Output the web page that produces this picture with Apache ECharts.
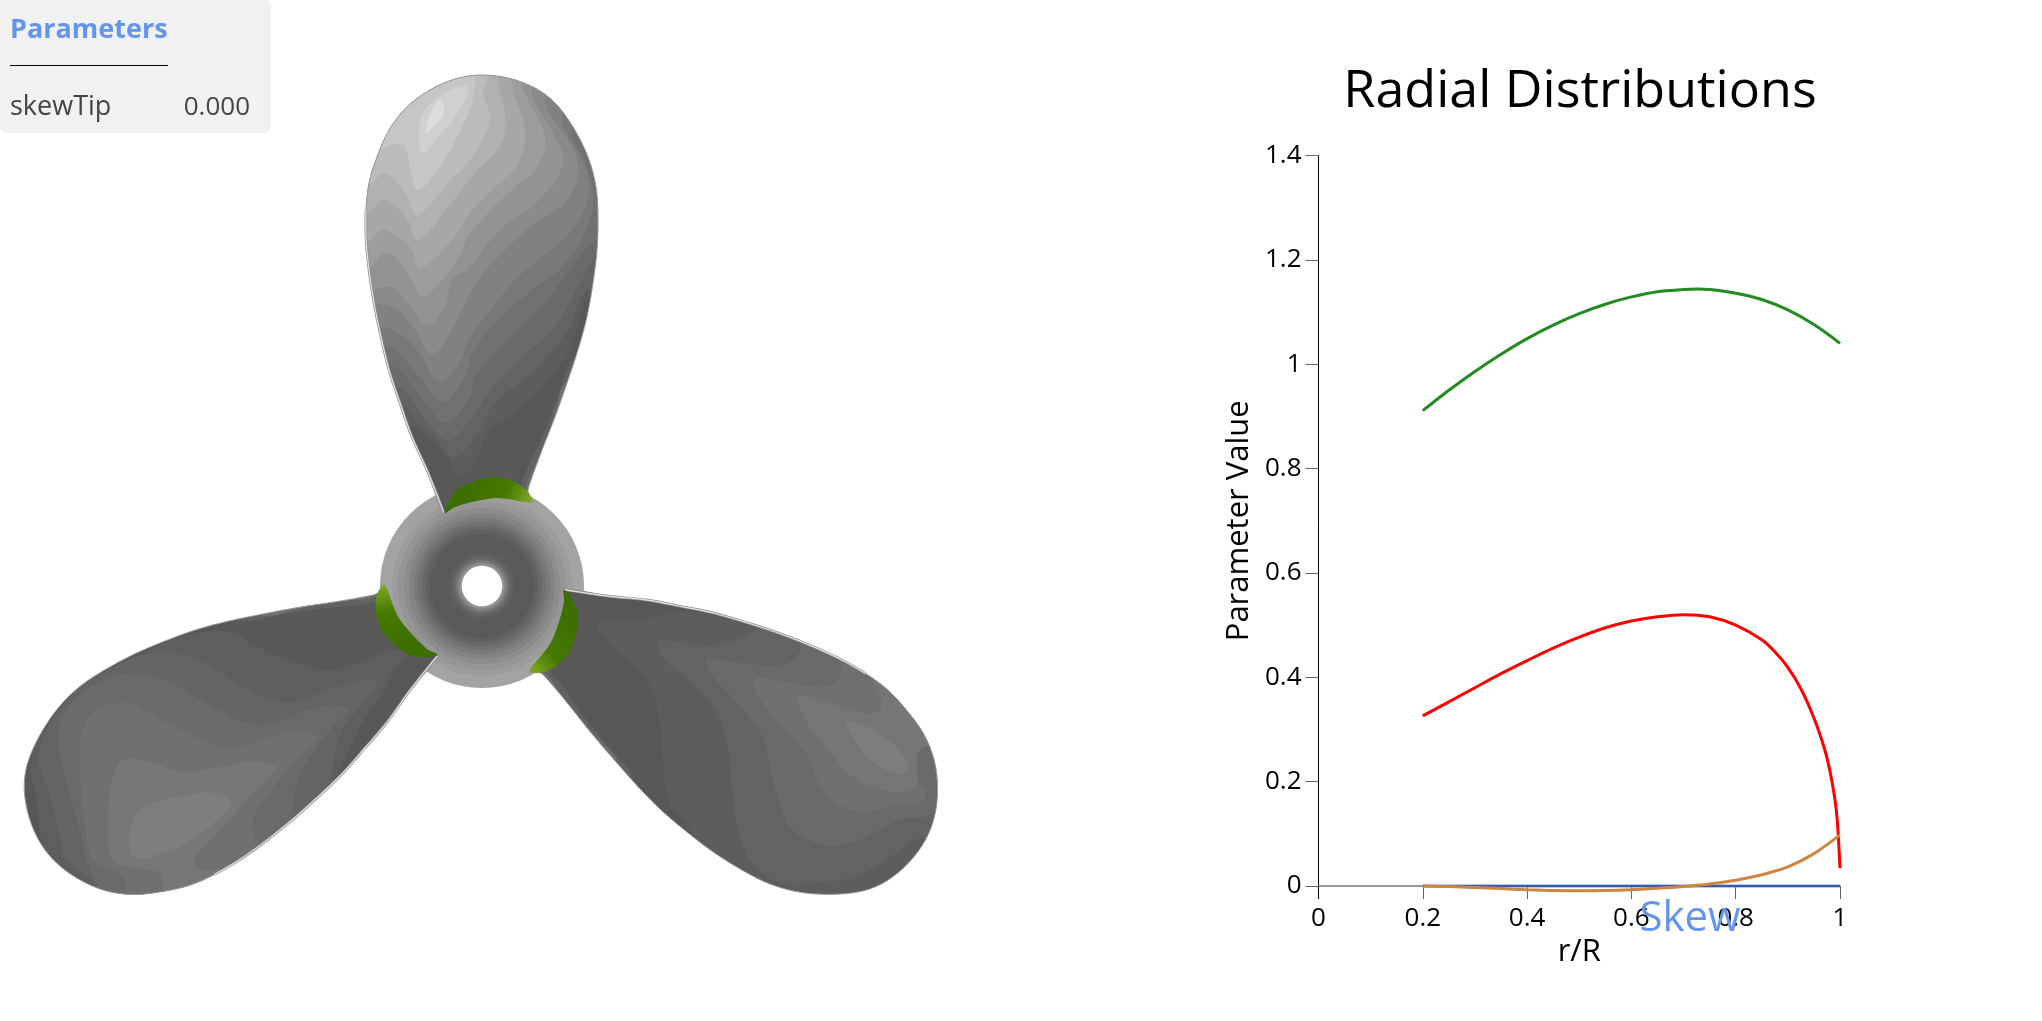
<!DOCTYPE html>
<html lang="en">
<head>
    <meta charset="UTF-8">
    <title>Radial Distributions</title>
    <script src="https://cdn.jsdelivr.net/npm/echarts@6/dist/echarts.min.js"></script>
    <style>
        html, body { margin: 0; padding: 0; background: #fff; }
        #main { width: 2042px; height: 1021px; }
    </style>
</head>
<body>
<div id="main"></div>
<script>
    // radial distributions
    var radius = [0.2, 0.25, 0.3, 0.35, 0.4, 0.45, 0.5, 0.55, 0.6, 0.65, 0.7, 0.75, 0.8, 0.85, 0.9, 0.95, 1];
    var rake = [0, -0.001, -0.003, -0.005, -0.007, -0.0085, -0.009, -0.0085, -0.007, -0.0045, -0.001, 0.004, 0.011, 0.0215, 0.0365, 0.062, 0.098];
    var skew = [0, 0, 0, 0, 0, 0, 0, 0, 0, 0, 0, 0, 0, 0, 0, 0, 0];
    var thickness = [0, 0, 0, 0, 0, 0, 0, 0, 0, 0, 0, 0, 0, 0, 0, 0, 0];
    // pitch has a station on its peak
    var pitchRadius = [0.2, 0.25, 0.3, 0.35, 0.4, 0.45, 0.5, 0.55, 0.6, 0.65, 0.7, 0.725, 0.75, 0.8, 0.85, 0.9, 0.95, 1];
    var pitch = [0.911, 0.950, 0.986, 1.019, 1.049, 1.075, 1.097, 1.115, 1.129, 1.139, 1.143, 1.144, 1.143, 1.136, 1.124, 1.104, 1.076, 1.040];
    // chord falls off fast at the tip so it has a few more stations
    var chordRadius = [0.2, 0.25, 0.3, 0.35, 0.4, 0.45, 0.5, 0.55, 0.6, 0.65, 0.7, 0.75, 0.8, 0.85, 0.875, 0.9, 0.925, 0.95, 0.97, 0.98, 0.99, 0.995, 1];
    var chord = [0.326, 0.353, 0.380, 0.407, 0.432, 0.456, 0.477, 0.495, 0.508, 0.516, 0.520, 0.516, 0.500, 0.472, 0.449, 0.419, 0.378, 0.322, 0.264, 0.224, 0.168, 0.123, 0.034];

    // propeller, read in picture units around the hub
    var hubCentre = [482, 586];
    var hubRadii = [102, 90, 84, 78, 73, 68, 64, 60, 56, 52, 34, 32, 29, 26.5, 24.5, 22.5, 20.3];
    var hubShades = ['#a3a3a3', '#9c9c9c', '#959595', '#8c8c8c', '#838383', '#7a7a7a', '#717171', '#686868', '#606060', '#5a5a5a', '#5c5c5c', '#606060', '#686868', '#747474', '#828282', '#949494', '#ffffff'];

    var bladeAngles = [0, 120, 240];
    var bladeOutline = [[444,513],[427,470],[412,437],[400,403],[389,370],[381,337],[374,303],[369,270],[366,237],[366,210],[369,183],[377,157],[389,130],[407,107],[430,90],[455,79],[480,75],[508,78],[535,88],[555,103],[573,127],[588,157],[596,187],[598,217],[597,250],[593,283],[587,317],[578,350],[567,383],[555,417],[542,450],[530,483],[528,492],[532,502],[498,498],[472,502],[455,507]];
    var leadingEdge = [[444,513],[427,470],[412,437],[400,403],[389,370],[381,337],[374,303],[369,270],[366,237],[366,210]];
    var cusp = [[444,513],[455,492],[472,482],[495,477],[515,482],[528,492],[532,502],[498,498],[472,502],[455,507]];
    var cuspShadeLine = [[470,480],[535,505]];

    var rootStripes = [
        [[575,357],[558,397],[542,437],[522,483],[522,510],[560,510],[620,357]],
        [[568,380],[552,423],[535,467],[527,483],[527,510],[570,510],[620,380]],
        [[552,437],[538,460],[530,487],[540,510],[575,510],[600,437]]
    ];
    var rootShades = ['#626262', '#707070', '#868686'];

    var topBands = [
        [[412,427],[425,437],[445,453],[460,477],[478,457],[488,433],[522,407],[555,373],[575,337],[588,300],[640,300],[640,60],[350,60],[350,427]],
        [[405,407],[415,420],[435,437],[454,458],[478,433],[495,403],[532,373],[568,330],[588,290],[640,290],[640,60],[350,60],[350,407]],
        [[398,387],[412,400],[428,423],[449,440],[475,413],[488,393],[522,357],[555,327],[582,280],[600,255],[640,255],[640,60],[350,60],[350,387]],
        [[395,367],[408,380],[425,403],[446,422],[470,397],[475,377],[505,343],[548,300],[562,280],[592,243],[640,200],[640,60],[350,60],[350,367]],
        [[392,347],[405,360],[422,380],[442,402],[465,377],[472,353],[495,323],[532,290],[562,267],[585,233],[593,203],[588,170],[572,123],[620,60],[350,60],[350,347]],
        [[382,327],[405,337],[422,357],[437,380],[455,370],[472,333],[488,313],[515,280],[542,257],[572,230],[588,197],[585,167],[562,117],[580,60],[350,60],[350,327]],
        [[375,303],[398,310],[415,330],[432,354],[452,330],[462,310],[478,280],[498,257],[535,223],[565,203],[578,173],[572,147],[545,100],[560,60],[350,60],[350,303]],
        [[372,290],[392,287],[408,303],[427,325],[445,307],[452,280],[467,270],[485,247],[508,223],[542,197],[563,163],[555,137],[532,92],[540,60],[350,60],[350,290]],
        [[367,270],[385,253],[398,260],[413,283],[423,297],[455,263],[468,237],[488,213],[515,187],[535,170],[545,147],[542,127],[522,85],[522,60],[350,60],[350,270]],
        [[366,243],[383,230],[398,237],[412,250],[420,268],[452,240],[472,210],[495,187],[518,163],[525,130],[512,87],[512,60],[350,60],[350,243]],
        [[368,212],[383,200],[397,207],[408,220],[418,240],[448,207],[475,173],[502,143],[505,113],[498,83],[498,60],[350,60],[350,212]],
        [[370,185],[383,173],[398,183],[408,197],[417,215],[448,183],[472,157],[490,120],[483,93],[487,80],[487,60],[350,60],[350,185]],
        [[373,167],[378,153],[392,145],[405,147],[410,167],[418,190],[442,163],[462,127],[472,103],[475,80],[475,60],[350,60],[350,167]],
        [[467,85],[442,95],[423,113],[419,140],[423,153],[438,137],[455,117],[467,95]],
        [[440,100],[431,112],[426,133],[435,125],[444,113]]
    ];
    var topShades = ['#5d5d5d', '#636363', '#6a6a6a', '#717171', '#797979', '#818181', '#8a8a8a', '#939393', '#9d9d9d', '#a7a7a7', '#b1b1b1', '#bbbbbb', '#c6c6c6', '#d0d0d0', '#dcdcdc'];

    var leftOrigin = [15, 585];
    var leftBands = [
        [[640,140],[720,180],[800,220],[880,245],[960,255],[1040,230],[1130,195],[1170,205],[1130,270],[1100,330],[1050,400],[1000,500],[900,700],[600,1000],[200,1000],[180,890],[90,790],[65,640],[50,520],[110,400],[180,330],[280,260],[400,195],[520,150]],
        [[400,205],[500,210],[580,240],[660,290],[750,340],[850,348],[950,310],[1050,285],[1085,295],[1040,360],[980,440],[950,570],[945,620],[700,950],[300,960],[220,880],[145,810],[140,780],[100,620],[70,510],[130,380],[220,290]],
        [[340,265],[420,275],[500,310],[600,370],[700,415],[780,410],[880,375],[960,360],[1000,375],[950,430],[890,510],[850,580],[835,650],[835,700],[600,950],[300,960],[225,850],[190,720],[135,500],[140,400],[220,310]],
        [[250,370],[340,355],[420,395],[520,445],[640,490],[740,465],[830,440],[890,445],[905,460],[850,520],[780,600],[720,690],[715,750],[730,780],[600,920],[350,960],[320,870],[240,830],[210,720],[195,500],[210,420]],
        [[320,525],[400,530],[500,560],[620,545],[720,528],[780,545],[785,555],[700,640],[620,730],[540,820],[545,850],[620,860],[500,960],[440,960],[445,885],[430,860],[340,845],[290,820],[280,740],[285,620],[300,560]],
        [[345,740],[370,680],[430,650],[520,630],[600,625],[650,655],[600,710],[520,770],[440,805],[380,820],[350,810]]
    ];
    var leftShades = ['#5e5e5e', '#646464', '#6a6a6a', '#707070', '#777777', '#7e7e7e'];

    var rightOrigin = [530, 585];
    var rightBands = [
        [[205,112],[340,105],[450,80],[800,100],[1300,300],[1300,1000],[600,960],[480,730],[420,660],[400,540],[390,420],[355,290],[290,220],[225,165]],
        [[385,170],[470,175],[540,182],[620,165],[680,135],[760,100],[1300,100],[1300,760],[1200,760],[1155,765],[1060,830],[960,880],[880,890],[760,895],[680,850],[630,760],[610,650],[600,530],[580,430],[550,365],[470,280],[400,220]],
        [[530,222],[600,230],[700,240],[770,235],[810,200],[815,170],[900,130],[1300,150],[1300,680],[1210,680],[1190,695],[1120,700],[1060,730],[960,775],[880,780],[800,745],[770,710],[730,590],[700,460],[660,400],[600,330],[545,270]],
        [[675,280],[760,290],[860,305],[920,290],[935,250],[925,215],[1000,200],[1300,400],[1260,490],[1180,485],[1160,520],[1170,600],[1190,610],[1170,655],[1090,660],[1010,680],[950,670],[880,620],[830,510],[760,430],[690,340]],
        [[810,335],[900,355],[1000,385],[1050,375],[1050,330],[1035,285],[1100,280],[1260,430],[1240,480],[1180,485],[1160,520],[1160,600],[1110,620],[1040,610],[960,570],[900,500],[830,410]],
        [[950,408],[1020,430],[1080,470],[1125,520],[1132,555],[1100,565],[1040,540],[990,490],[960,440]]
    ];
    var rightShades = ['#5d5d5d', '#636363', '#6a6a6a', '#707070', '#767676', '#7d7d7d'];

    function zip(xs, ys) {
        return xs.map(function (x, i) { return [x, ys[i]]; });
    }

    function turn(p, deg) {
        var a = deg * Math.PI / 180;
        var dx = p[0] - hubCentre[0], dy = p[1] - hubCentre[1];
        return [hubCentre[0] + dx * Math.cos(a) - dy * Math.sin(a), hubCentre[1] + dx * Math.sin(a) + dy * Math.cos(a)];
    }

    function fromCrop(origin) {
        return function (p) { return [origin[0] + p[0] / 3, origin[1] + p[1] / 3]; };
    }

    function poly(api, pts, fill, smooth) {
        return {
            type: 'polygon',
            shape: { points: pts.map(function (p) { return api.coord(p); }), smooth: smooth },
            style: { fill: fill }
        };
    }

    function renderBlade(params, api) {
        var i = params.dataIndex;
        var deg = bladeAngles[i];
        var rotate = function (p) { return turn(p, deg); };
        var children = [poly(api, bladeOutline.map(rotate), '#585858', 0.33)];
        var bands, shades;
        if (i === 0) {
            bands = topBands;
            shades = topShades;
        } else if (i === 1) {
            bands = rightBands.map(function (b) { return b.map(fromCrop(rightOrigin)); });
            shades = rightShades;
        } else {
            bands = leftBands.map(function (b) { return b.map(fromCrop(leftOrigin)); });
            shades = leftShades;
        }
        bands.forEach(function (b, k) { children.push(poly(api, b, shades[k], 0.4)); });
        rootStripes.forEach(function (b, k) { children.push(poly(api, b.map(rotate), rootShades[k], 0.3)); });

        var outlinePts = bladeOutline.map(rotate).map(function (p) { return api.coord(p); });
        var edgePts = leadingEdge.map(rotate).map(function (p) { return api.coord(p); });
        return {
            type: 'group',
            children: [
                {
                    type: 'group',
                    clipPath: { type: 'polygon', shape: { points: outlinePts, smooth: 0.33 } },
                    children: children
                },
                { type: 'polygon', shape: { points: outlinePts, smooth: 0.33 }, style: { fill: 'none', stroke: '#9a9a9a', lineWidth: 1 } },
                { type: 'polyline', shape: { points: edgePts, smooth: 0.33 }, style: { fill: 'none', stroke: '#8c8c8c', lineWidth: 2.6 } },
                { type: 'polyline', shape: { points: edgePts, smooth: 0.33 }, style: { fill: 'none', stroke: '#e4e4e4', lineWidth: 1.2 } }
            ]
        };
    }

    function renderCusp(params, api) {
        var deg = bladeAngles[params.dataIndex];
        var from = api.coord(turn(cuspShadeLine[0], deg));
        var to = api.coord(turn(cuspShadeLine[1], deg));
        return poly(api, cusp.map(function (p) { return turn(p, deg); }), {
            type: 'linear', global: true, x: from[0], y: from[1], x2: to[0], y2: to[1],
            colorStops: [
                { offset: 0, color: '#3c6e00' },
                { offset: 0.55, color: '#457900' },
                { offset: 1, color: '#8ab22a' }
            ]
        }, 0.3);
    }

    function renderRing(params, api) {
        var c = api.coord([api.value(0), api.value(1)]);
        return {
            type: 'circle',
            shape: { cx: c[0], cy: c[1], r: api.size([api.value(2), 0])[0] },
            style: { fill: hubShades[params.dataIndex] }
        };
    }

    var fontName = '"Open Sans"';
    var chart = echarts.init(document.getElementById('main'));

    function lineSeries(name, xs, values, color, width, opacity) {
        return {
            name: name,
            type: 'line',
            xAxisIndex: 1,
            yAxisIndex: 1,
            data: zip(xs, values),
            showSymbol: false,
            smooth: 0.33,
            clip: false,
            lineStyle: { color: color, width: width, opacity: opacity, cap: 'butt' }
        };
    }

    chart.setOption({
        animation: false,
        title: [
            {
                text: 'Radial Distributions',
                left: 1580, top: 66, textAlign: 'center', padding: 0,
                textStyle: { fontFamily: fontName, fontSize: 52, fontWeight: 'normal', color: '#000' }
            },
            {
                text: 'Skew',
                left: 1690, top: 898, textAlign: 'center', padding: 0, z: 10,
                textStyle: { fontFamily: fontName, fontSize: 42, fontWeight: 'normal', color: '#6495ED' }
            }
        ],
        grid: [
            { left: 0, top: 0, width: 1000, height: 1021 },
            { left: 1318.5, top: 155.5, width: 521.5, height: 730.5 }
        ],
        xAxis: [
            { type: 'value', gridIndex: 0, min: 0, max: 1000, show: false },
            {
                type: 'value', gridIndex: 1, min: 0, max: 1, interval: 0.2, position: 'bottom',
                name: 'r/R', nameLocation: 'middle', nameGap: 50,
                nameTextStyle: { fontFamily: fontName, fontSize: 31, color: '#000' },
                axisLine: { lineStyle: { color: '#777', width: 1.5 } },
                axisTick: { length: 13, lineStyle: { color: '#666', width: 1 } },
                axisLabel: { margin: 20, fontFamily: fontName, fontSize: 26, color: '#000' },
                splitLine: { show: false }
            },
            {
                type: 'value', gridIndex: 1, min: 0, max: 1, position: 'bottom',
                axisLine: { show: false },
                axisLabel: { show: false },
                axisTick: { customValues: [0], length: 13, lineStyle: { color: '#000', width: 1 } },
                splitLine: { show: false }
            }
        ],
        yAxis: [
            { type: 'value', gridIndex: 0, min: 0, max: 1021, inverse: true, show: false },
            {
                type: 'value', gridIndex: 1, min: 0, max: 1.4, interval: 0.2,
                name: 'Parameter Value', nameLocation: 'middle', nameGap: 64,
                nameTextStyle: { fontFamily: fontName, fontSize: 31, color: '#000' },
                axisLine: { show: true, lineStyle: { color: '#000', width: 1 } },
                axisTick: { show: true, length: 13, lineStyle: { color: '#666', width: 1 } },
                axisLabel: { margin: 17, fontFamily: fontName, fontSize: 26, color: '#000' },
                splitLine: { show: false }
            }
        ],
        series: [
            {
                type: 'custom', xAxisIndex: 0, yAxisIndex: 0, clip: false, z: 2,
                renderItem: renderRing,
                data: hubRadii.map(function (r) { return [hubCentre[0], hubCentre[1], r]; })
            },
            {
                type: 'custom', xAxisIndex: 0, yAxisIndex: 0, clip: false, z: 3,
                renderItem: renderBlade,
                data: bladeAngles.map(function () { return hubCentre; })
            },
            {
                type: 'custom', xAxisIndex: 0, yAxisIndex: 0, clip: false, z: 4,
                renderItem: renderCusp,
                data: bladeAngles.map(function () { return hubCentre; })
            },
            lineSeries('Pitch', pitchRadius, pitch, '#228B22', 3),
            lineSeries('Chord', chordRadius, chord, '#FF0000', 3),
            lineSeries('Skew', radius, skew, '#6495ED', 3.2),
            lineSeries('Thickness', radius, thickness, '#1f3a86', 1.6, 0.85),
            lineSeries('Rake', radius, rake, '#CD853F', 3)
        ],
        graphic: [
            {
                type: 'rect', left: 0, top: 0, z: 20,
                shape: { width: 271, height: 133, r: [0, 7, 7, 7] },
                style: { fill: '#f1f1f1' }
            },
            {
                type: 'text', left: 10, top: 16.5, z: 21,
                style: { text: 'Parameters', font: 'bold 27px "Open Sans"', fill: '#6495ED' }
            },
            {
                type: 'line', z: 21,
                shape: { x1: 10, y1: 65.5, x2: 168, y2: 65.5 },
                style: { stroke: '#000', lineWidth: 1 }
            },
            {
                type: 'text', left: 10, top: 94, z: 21,
                style: { text: 'skewTip', font: '27px "Open Sans"', fill: '#444' }
            },
            {
                type: 'text', right: 2042 - 250, top: 94.5, z: 21,
                style: { text: '0.000', font: '26px "Open Sans"', fill: '#444' }
            }
        ]
    });
</script>
</body>
</html>
